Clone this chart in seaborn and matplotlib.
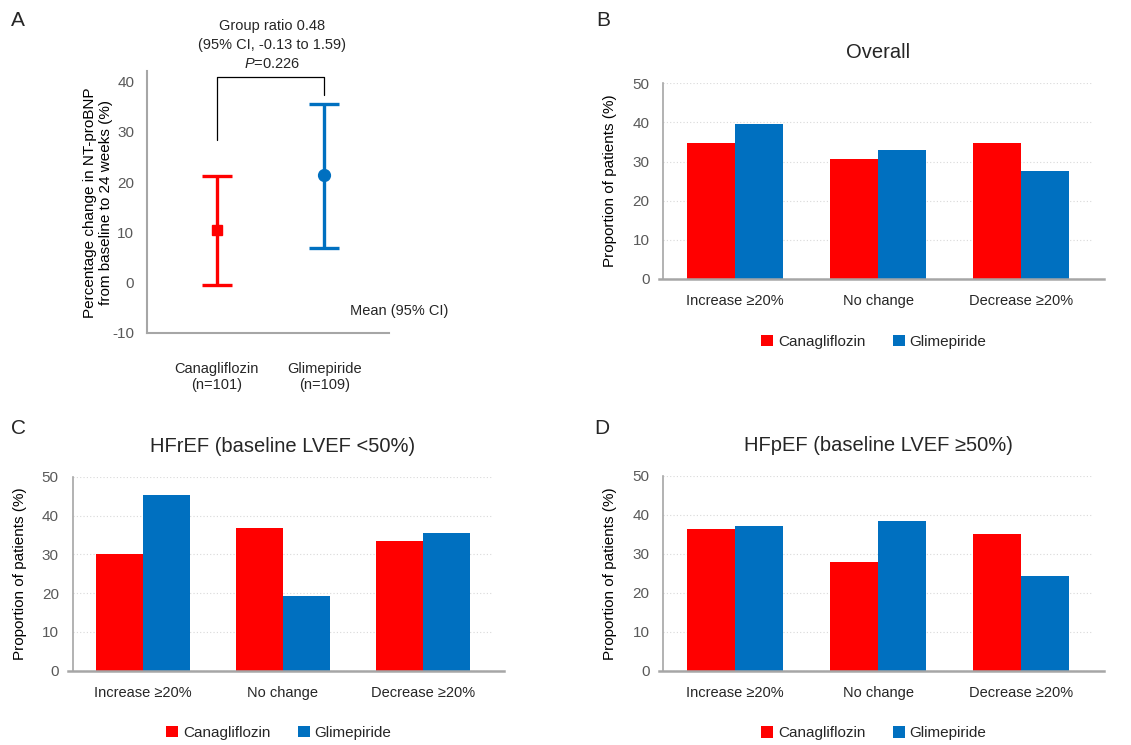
import numpy as np
import pandas as pd
import matplotlib
matplotlib.use("Agg")
import matplotlib.pyplot as plt
import seaborn as sns

# ---------------- data ----------------
categories = ["Increase \u226520%", "No change", "Decrease \u226520%"]
drugs = ["Canagliflozin", "Glimepiride"]

overall_cana = [34.7, 30.7, 34.7]
overall_glim = [39.5, 33.0, 27.5]
hfref_cana = [30.1, 36.8, 33.4]
hfref_glim = [45.4, 19.3, 35.6]
hfpef_cana = [36.4, 27.9, 35.0]
hfpef_glim = [37.1, 38.5, 24.3]

a_groups = ["Canagliflozin\n(n=101)", "Glimepiride\n(n=109)"]
a_mean = [10.5, 21.5]
a_lower = [-0.5, 7.0]
a_upper = [21.3, 35.5]
bracket_left_bottom = 28.4
bracket_right_bottom = 37.3
bracket_top = 41.0

RED = "#FF0000"
BLUE = "#0070C0"
GRAY = "#A6A6A6"

sns.set_theme(style="white")
plt.rcParams["font.family"] = ["Liberation Sans", "DejaVu Sans"]
plt.rcParams["mathtext.fontset"] = "custom"
plt.rcParams["mathtext.it"] = "Liberation Sans:italic"
plt.rcParams["mathtext.rm"] = "Liberation Sans"
plt.rcParams["axes.unicode_minus"] = False

W, H = 1131, 745
fig = plt.figure(figsize=(W / 100, H / 100), dpi=100)
fig.patch.set_facecolor("white")


def px_axes(left, top, right, bottom):
    return fig.add_axes([left / W, 1 - bottom / H, (right - left) / W, (bottom - top) / H])


def bar_panel(ax, cana, glim, title, label_x):
    df = pd.DataFrame({
        "Change": categories * 2,
        "Value": list(cana) + list(glim),
        "Drug": [drugs[0]] * 3 + [drugs[1]] * 3,
    })
    sns.barplot(data=df, x="Change", y="Value", hue="Drug", palette=[RED, BLUE],
                width=0.67, saturation=1, errorbar=None, linewidth=0, ax=ax)
    ax.set_ylim(0, 50)
    ax.set_xlim(-0.5, 2.5)
    ax.set_yticks(np.arange(0, 51, 10))
    ax.set_axisbelow(True)
    ax.yaxis.grid(True, color="#D9D9D9", linestyle=(0, (1, 2)), linewidth=0.8)
    ax.xaxis.grid(False)
    for s in ["top", "right"]:
        ax.spines[s].set_visible(False)
    ax.spines["left"].set_color(GRAY)
    ax.spines["left"].set_linewidth(1.2)
    ax.spines["bottom"].set_color(GRAY)
    ax.spines["bottom"].set_linewidth(1.8)
    ax.spines["bottom"].set_bounds(-0.53, 2.58)
    ax.set_xlabel("")
    ax.set_ylabel("Proportion of patients (%)", fontsize=11, color="black")
    ax.yaxis.set_label_coords(label_x, 0.5)
    ax.tick_params(axis="both", length=0)
    ax.tick_params(axis="y", labelsize=11, labelcolor="#595959", pad=10)
    ax.tick_params(axis="x", labelsize=10.5, labelcolor="#262626", pad=11)
    ax.legend(loc="center", bbox_to_anchor=(0.49, -0.32), ncol=2, frameon=False,
              fontsize=11, handlelength=0.8, handleheight=0.8, handletextpad=0.3,
              columnspacing=1.8)
    if title:
        ax.set_title(title, fontsize=14.5, pad=18)


# ---------------- Panel A ----------------
axA = px_axes(146.7, 71.5, 389, 333)
markers = ["s", "o"]
msizes = [7.5, 8.5]
colors = [RED, BLUE]
for i in range(2):
    axA.errorbar(i, a_mean[i], yerr=[[a_mean[i] - a_lower[i]], [a_upper[i] - a_mean[i]]],
                 fmt=markers[i], color=colors[i], ms=msizes[i], capsize=11,
                 capthick=2.4, elinewidth=2.4)
axA.set_xlim(-0.65, 1.6)
axA.set_ylim(-10, 42)
axA.set_yticks(np.arange(-10, 41, 10))
axA.set_xticks([0, 1])
axA.set_xticklabels(a_groups)
axA.grid(False)
for s in ["top", "right"]:
    axA.spines[s].set_visible(False)
for s in ["left", "bottom"]:
    axA.spines[s].set_color(GRAY)
    axA.spines[s].set_linewidth(1.5)
axA.tick_params(axis="both", direction="out", length=6, width=1.3, color=GRAY)
axA.tick_params(axis="y", labelsize=11, labelcolor="#595959", pad=3)
axA.tick_params(axis="x", labelsize=10.5, labelcolor="#262626", pad=15)
axA.set_ylabel("Percentage change in NT-proBNP\nfrom baseline to 24 weeks (%)",
               fontsize=11, color="black", linespacing=1.2)
axA.yaxis.set_label_coords(-0.14, 0.5)
# bracket
axA.plot([0, 0, 1, 1], [bracket_left_bottom, bracket_top, bracket_top, bracket_right_bottom],
         color="black", lw=0.9, clip_on=False)
fig.text(272 / W, 1 - 26 / H, "Group ratio 0.48", ha="center", va="center", fontsize=10.5)
fig.text(272 / W, 1 - 45 / H, "(95% CI, -0.13 to 1.59)", ha="center", va="center", fontsize=10.5)
fig.text(272 / W, 1 - 64 / H, r"$\it{P}$=0.226", ha="center", va="center", fontsize=10.5)
axA.text(1.24, -5.6, "Mean (95% CI)", ha="left", va="center", fontsize=10.5, clip_on=False)

# ---------------- Panels B, C, D ----------------
axB = px_axes(663.3, 83.3, 1093, 279)
bar_panel(axB, overall_cana, overall_glim, "Overall", -0.108)

axC = px_axes(72.7, 476.7, 493, 670.7)
bar_panel(axC, hfref_cana, hfref_glim, "HFrEF (baseline LVEF <50%)", -0.109)

axD = px_axes(663.3, 475.7, 1093, 670.7)
bar_panel(axD, hfpef_cana, hfpef_glim, "HFpEF (baseline LVEF \u226550%)", -0.108)

# panel letters
for letter, x, y in [("A", 18, 20), ("B", 603, 20), ("C", 18, 428), ("D", 602, 428)]:
    fig.text(x / W, 1 - y / H, letter, ha="center", va="center", fontsize=15)

fig.savefig("out.png", dpi=100, facecolor="white")
